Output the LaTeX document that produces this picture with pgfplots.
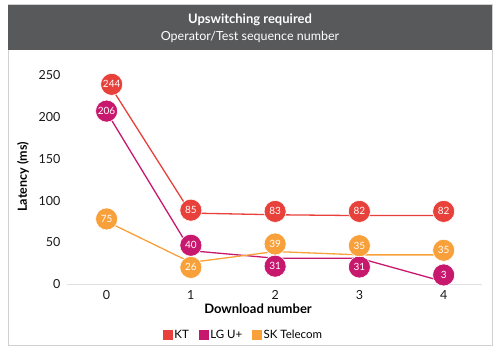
\documentclass[border=0pt]{standalone}
\usepackage{fontspec}
\setmainfont{Lato}
\usepackage{pgfplots}
\pgfplotsset{compat=1.18}
\definecolor{ktc}{HTML}{E8403A}
\definecolor{lgc}{HTML}{C8186E}
\definecolor{skc}{HTML}{F8A03A}
\definecolor{barc}{HTML}{58595B}
\pgfplotsset{
  bubble/.style={only marks, mark=*, mark size=11pt,
    mark options={fill=#1, draw=white, line width=0.6pt},
    nodes near coords, point meta=explicit symbolic,
    nodes near coords style={anchor=center, text=white, inner sep=0pt, font=\fontsize{10}{12}\selectfont},
    forget plot},
  serie/.style={#1, line width=1.3pt, mark=none, forget plot}
}
\begin{document}
\begin{tikzpicture}[x=1pt,y=1pt]
\useasboundingbox (0,0) rectangle (500,351);
\draw[black!18, line width=1pt] (8,6) rectangle (492,346);
\fill[barc] (8,301) rectangle (492,346);
\node[white, font=\fontsize{13}{15}\selectfont\bfseries] at (250,331) {Upswitching required};
\node[white, font=\fontsize{12.5}{15}\selectfont] at (250,314) {Operator/Test sequence number};
\node[font=\fontsize{13}{15}\selectfont\bfseries] at (258,42) {Download number};
\node[rotate=90, font=\fontsize{12.5}{14}\selectfont\bfseries] at (23,174) {Latency (ms)};
\begin{axis}[at={(79,80)}, anchor=south west,
  scale only axis, width=415pt, height=221.5pt,
  xmin=-0.475, xmax=4.45, ymin=0, ymax=265,
  axis x line=bottom, axis y line=left,
  x axis line style={draw=black!12, line width=1pt, -},
  y axis line style={draw=none},
  xtick={0,1,2,3,4}, ytick={0,50,100,150,200,250},
  major tick length=0pt,
  /pgf/number format/assume math mode=true,
  ticklabel style={font=\fontsize{12.5}{14}\selectfont, text=black!90},
  yticklabel style={anchor=east, inner sep=0pt, xshift=-6pt},
  xticklabel style={anchor=north, inner sep=0pt, yshift=-6pt},
  clip=false,
  legend style={at={(rel axis cs:0.4265,-0.23)}, anchor=center, draw=none,
    font=\fontsize{11.5}{13}\selectfont, legend columns=-1,
    /tikz/every even column/.append style={column sep=8pt}},
]
\addplot[serie=ktc] coordinates {(0,244) (1,85) (2,83) (3,82) (4,82)};
\addplot[serie=lgc] coordinates {(0,206) (1,40) (2,31) (3,31) (4,3)};
\addplot[serie=skc] coordinates {(0,75) (1,26) (2,39) (3,35) (4,35)};
\addplot[bubble=lgc] table[meta=l] {
x y l
0 207 206
1 46.5 40
2 21.5 31
3 20.5 31
4 11 3
};
\addplot[bubble=skc] table[meta=l] {
x y l
0 78 75
1 20 26
2 48 39
3 46 35
4 40.5 35
};
\addplot[bubble=ktc] table[meta=l] {
x y l
0.06 239 244
1 88.5 85
2 87 83
3 87 82
4 87 82
};
\addlegendimage{legend image code/.code={\fill[ktc] (0pt,-4.5pt) rectangle (9pt,4.5pt);}}
\addlegendentry{KT}
\addlegendimage{legend image code/.code={\fill[lgc] (0pt,-4.5pt) rectangle (9pt,4.5pt);}}
\addlegendentry{LG U+}
\addlegendimage{legend image code/.code={\fill[skc] (0pt,-4.5pt) rectangle (9pt,4.5pt);}}
\addlegendentry{SK Telecom}
\end{axis}
\end{tikzpicture}
\end{document}
